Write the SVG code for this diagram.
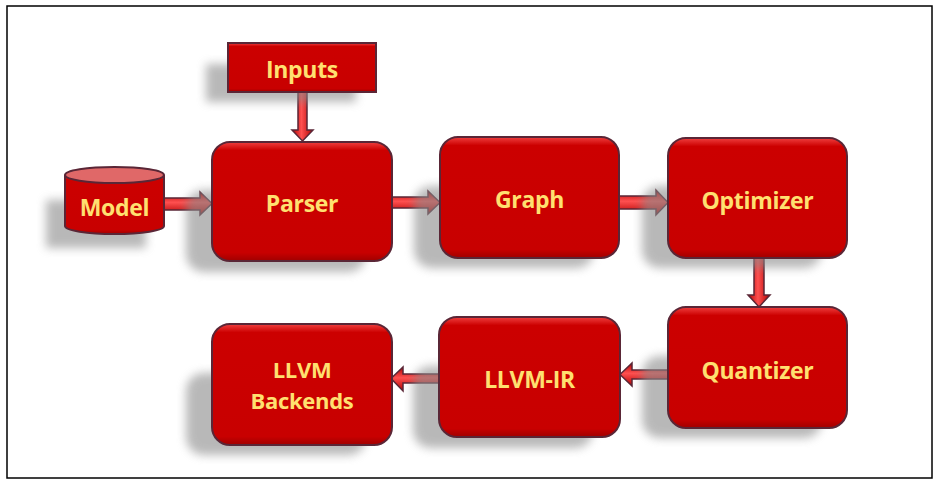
<svg xmlns="http://www.w3.org/2000/svg" width="939" height="485" viewBox="0 0 939 485">
<defs>
<linearGradient id="boxg" x1="0" y1="0" x2="0" y2="1">
<stop offset="0" stop-color="#f04040"/>
<stop offset="0.07" stop-color="#cc0000"/>
<stop offset="0.93" stop-color="#c80000"/>
<stop offset="1" stop-color="#a00000"/>
</linearGradient>
<linearGradient id="arrh" x1="0" y1="0" x2="0" y2="1">
<stop offset="0" stop-color="#b00000"/>
<stop offset="0.45" stop-color="#ff5050"/>
<stop offset="1" stop-color="#b00000"/>
</linearGradient>
<linearGradient id="arrv" x1="0" y1="0" x2="1" y2="0">
<stop offset="0" stop-color="#b00000"/>
<stop offset="0.45" stop-color="#ff5050"/>
<stop offset="1" stop-color="#b00000"/>
</linearGradient>
<filter id="blur" x="-30%" y="-30%" width="160%" height="160%">
<feGaussianBlur stdDeviation="5"/>
</filter>
</defs>
<style>
.box{fill:url(#boxg);stroke:#5a2636;stroke-width:2}
.shadow{fill:#8a8a8a;opacity:0.6;filter:url(#blur)}
.lbl{font-family:"Open Sans","Noto Sans","DejaVu Sans",sans-serif;font-weight:bold;font-size:23px;letter-spacing:-0.3px;fill:#ffe070;text-anchor:middle}
.lbl2{font-size:22px}
.ah{fill:url(#arrh);stroke:#5a2636;stroke-width:1.5}
.av{fill:url(#arrv);stroke:#5a2636;stroke-width:1.5}
</style>
<rect x="0" y="0" width="939" height="485" fill="#ffffff"/>
<rect x="7" y="6" width="925" height="472" fill="none" stroke="#000000" stroke-width="1.5"/>

<g id="connectors">
<polygon class="av" points="298,92 307,92 307,130 313,130 302.5,141 292,130 298,130"/>
<polygon class="ah" points="164,198 200,198 200,192 212,203.5 200,215 200,210 164,210"/>
<polygon class="ah" points="392,197 428,197 428,191 440,202.5 428,214 428,208 392,208"/>
<polygon class="ah" points="619,196 656,196 656,190 668,202.5 656,215 656,209 619,209"/>
<polygon class="av" points="754,258 764,258 764,295 770,295 759,307 748,295 754,295"/>
<polygon class="ah" points="668,370 632,370 632,363 620,374.5 632,386 632,379 668,379"/>
<polygon class="ah" points="439,374 403,374 403,367 391,378.5 403,391 403,383 439,383"/>
</g>

<g id="inputs">
<rect class="shadow" x="206" y="64" width="150" height="38"/>
<rect class="box" x="228" y="43" width="148" height="49"/>
<text class="lbl" x="302" y="78">Inputs</text>
</g>

<g id="model">
<rect class="shadow" x="46" y="200" width="100" height="48"/>
<path class="box" d="M65,175 L65,226 A49.5,8 0 0 0 164,226 L164,175"/>
<ellipse cx="114.5" cy="175" rx="49.5" ry="8" fill="#e06868" stroke="#5a2636" stroke-width="2"/>
<text class="lbl" x="114.5" y="216">Model</text>
</g>

<g id="parser">
<rect class="shadow" x="186" y="190" width="180" height="82" rx="18"/>
<rect class="box" x="212" y="142" width="180" height="119" rx="18"/>
<text class="lbl" x="302" y="212">Parser</text>
</g>

<g id="graph">
<rect class="shadow" x="414" y="186" width="180" height="82" rx="18"/>
<rect class="box" x="440" y="137" width="179" height="121" rx="18"/>
<text class="lbl" x="529.5" y="208">Graph</text>
</g>

<g id="optimizer">
<rect class="shadow" x="642" y="186" width="180" height="82" rx="18"/>
<rect class="box" x="668" y="138" width="179" height="120" rx="18"/>
<text class="lbl" x="757.5" y="209">Optimizer</text>
</g>

<g id="quantizer">
<rect class="shadow" x="642" y="356" width="180" height="82" rx="18"/>
<rect class="box" x="668" y="307" width="179" height="121" rx="18"/>
<text class="lbl" x="757.5" y="379">Quantizer</text>
</g>

<g id="llvm-ir">
<rect class="shadow" x="413" y="366" width="180" height="82" rx="18"/>
<rect class="box" x="439" y="317" width="181" height="120" rx="18"/>
<text class="lbl" x="529.5" y="388">LLVM-IR</text>
</g>

<g id="llvm-backends">
<rect class="shadow" x="186" y="373" width="180" height="82" rx="18"/>
<rect class="box" x="212" y="324" width="180" height="121" rx="18"/>
<text class="lbl lbl2" x="302" y="378">LLVM</text>
<text class="lbl lbl2" x="302" y="409">Backends</text>
</g>
</svg>
